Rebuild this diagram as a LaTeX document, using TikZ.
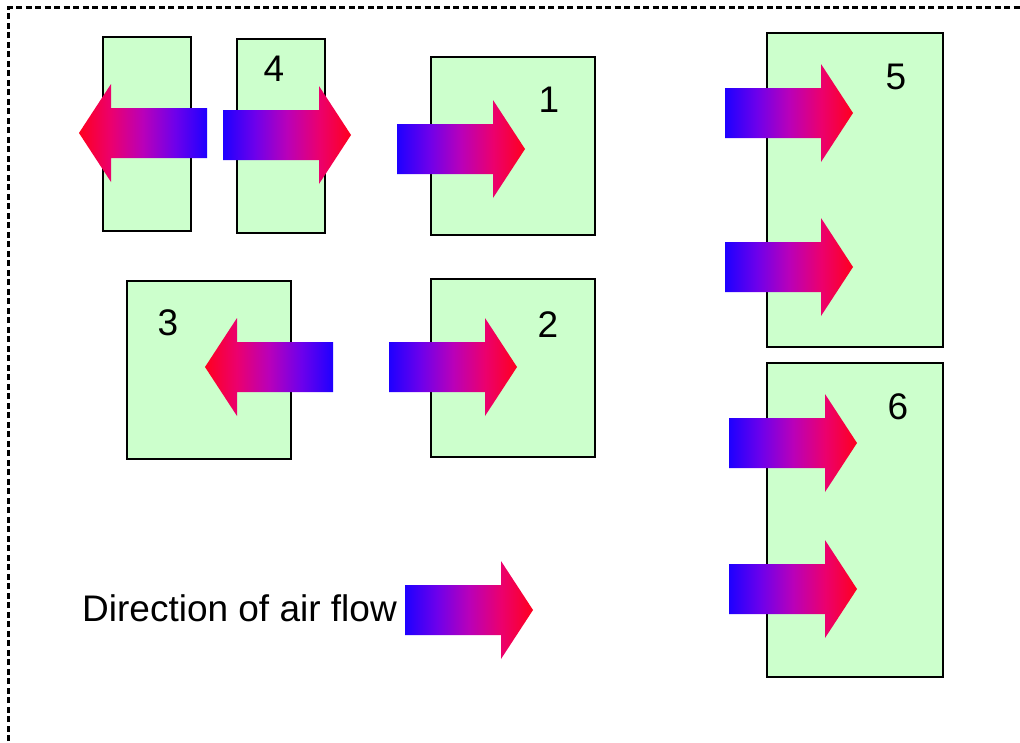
\documentclass[tikz,border=0pt]{standalone}
\usepackage{fontspec}
\setmainfont{Liberation Sans}
\definecolor{fblue}{RGB}{30,0,255}
\definecolor{fc1}{RGB}{110,0,235}
\definecolor{fc2}{RGB}{185,0,185}
\definecolor{fc3}{RGB}{235,0,110}
\definecolor{fred}{RGB}{255,0,30}
\definecolor{boxgreen}{RGB}{204,255,204}
\pgfdeclarehorizontalshading{airflow}{100bp}{color(0bp)=(fblue); color(25bp)=(fblue); color(37.5bp)=(fc1); color(50bp)=(fc2); color(62.5bp)=(fc3); color(75bp)=(fred); color(100bp)=(fred)}
\tikzset{
  box/.style={draw=black, line width=1.5pt, fill=boxgreen, anchor=north west, inner sep=0pt, outer sep=0pt},
  num/.style={inner sep=0pt, font=\fontsize{37}{44}\selectfont},
  flowR/.style={shading=airflow, shading angle=0},
  flowL/.style={shading=airflow, shading angle=180}
}
\newcommand\airR[2]{\shade[flowR] (#1,#2-25) -- ++(96,0) -- ++(0,-24) -- ++(32,49) -- ++(-32,49) -- ++(0,-24) -- ++(-96,0) -- cycle;}
\newcommand\airL[2]{\shade[flowL] (#1,#2-25) -- ++(-96,0) -- ++(0,-24) -- ++(-32,49) -- ++(32,49) -- ++(0,-24) -- ++(96,0) -- cycle;}
\begin{document}
\begin{tikzpicture}[x=1pt,y=-1pt]
\useasboundingbox (0,0) rectangle (1020,742);
\clip (0,0) rectangle (1020,742);
\fill[white] (0,0) rectangle (1020,742);
\draw[line width=2.2pt, dash pattern=on 6pt off 3.5pt] (8.5,760) -- (8.5,7.5) -- (1040,7.5);
% boxes
\node[box, minimum width=88pt, minimum height=194pt] (bA) at (103,37) {};
\node[box, minimum width=88pt, minimum height=194pt] (b4) at (237,39) {};
\node[box, minimum width=164pt, minimum height=178pt] (b1) at (431,57) {};
\node[box, minimum width=164pt, minimum height=178pt] (b3) at (127,281) {};
\node[box, minimum width=164pt, minimum height=178pt] (b2) at (431,279) {};
\node[box, minimum width=176pt, minimum height=314pt] (b5) at (767,33) {};
\node[box, minimum width=176pt, minimum height=314pt] (b6) at (767,363) {};
% arrows
\airL{207}{133}
\airR{223}{135}
\airR{397}{149}
\airR{725}{113}
\airR{725}{267}
\airR{729}{443}
\airR{729}{589}
\airL{333}{367}
\airR{389}{367}
\airR{405}{610}
% labels
\node[num] (l4) at (274,69) {4};
\node[num] (l1) at (549,100) {1};
\node[num] (l5) at (896,77) {5};
\node[num] (l6) at (898,407) {6};
\node[num] (l3) at (168,323) {3};
\node[num] (l2) at (548,325) {2};
\node[num, anchor=base east] (legend) at (397,621) {Direction of air flow};
\end{tikzpicture}
\end{document}
